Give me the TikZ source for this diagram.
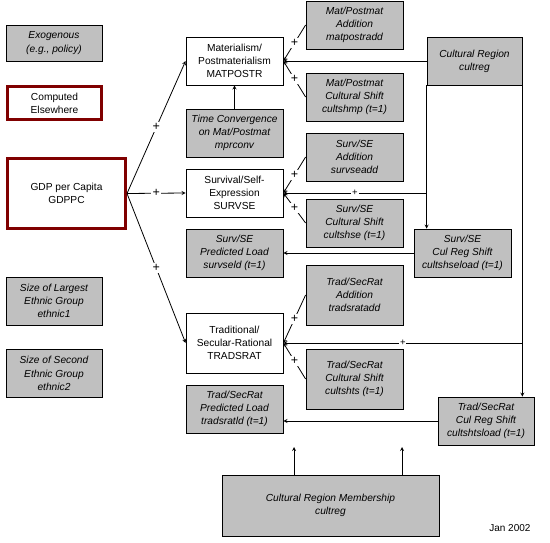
\documentclass[tikz,border=0pt]{standalone}
\usepackage{fontspec}
\setmainfont{Liberation Sans}
\usepackage{xcolor}
\usepackage{tikz}

\definecolor{boxGray}{RGB}{192,192,192}
\definecolor{darkRed}{RGB}{128,0,0}

\begin{document}
\begin{tikzpicture}[
        x={(1pt,0pt)}, y={(0pt,-1pt)},
        exog/.style={rectangle, draw=black, fill=boxGray, line width=0.8pt, minimum width=96pt, minimum height=48pt, inner sep=0pt, text centered, font=\fontsize{10.2}{13.2}\selectfont\itshape, align=center},
        level/.style={rectangle, draw=black, fill=white, line width=0.8pt, minimum width=97pt, minimum height=48pt, inner sep=0pt, text centered, font=\fontsize{10.2}{13.2}\selectfont, align=center},
        elsewhere/.style={rectangle, draw=darkRed, fill=white, line width=3pt, inner sep=0pt, text centered, font=\fontsize{10.2}{13.2}\selectfont, align=center},
        arrow/.style={->, >=stealth, line width=0.8pt},
        plus/.style={fill=white, inner sep=1.5pt, font=\fontsize{12.5}{12.5}\selectfont},
        smallPlus/.style={fill=white, inner sep=0.8pt, font=\fontsize{9.5}{9.5}\selectfont}
    ]
        \useasboundingbox (0,0) rectangle (550,543);

        % ========== LEGEND / INPUTS (Left Column) ==========
        \node[exog, minimum height=36pt] (exogenous) at (54,43) {Exogenous\\(e.g., policy)};
        \node[elsewhere, minimum width=94pt, minimum height=33pt] (computed) at (54.5,103) {Computed\\Elsewhere};
        \node[elsewhere, minimum width=118pt, minimum height=70pt] (gdppc) at (66.5,193.5) {GDP per Capita\\GDPPC};
        \node[exog] (ethnic1) at (54,301) {Size of Largest\\Ethnic Group\\ethnic1};
        \node[exog] (ethnic2) at (54,373.5) {Size of Second\\Ethnic Group\\ethnic2};

        % ========== VALUE LEVELS (Middle Column) ==========
        \node[level] (matpostr) at (234.5,61) {Materialism/\\Postmaterialism\\MATPOSTR};
        \node[exog, minimum width=97pt] (mprconv) at (234.5,133) {Time Convergence\\on Mat/Postmat\\mprconv};
        \node[level] (survse) at (234.5,193) {Survival/Self-\\Expression\\SURVSE};
        \node[exog, minimum width=97pt] (survseld) at (234.5,253) {Surv/SE\\Predicted Load\\survseld (t=1)};
        \node[level, minimum height=60pt] (tradsrat) at (234.5,343) {Traditional/\\Secular-Rational\\TRADSRAT};
        \node[exog, minimum width=97pt] (tradsratld) at (234.5,409) {Trad/SecRat\\Predicted Load\\tradsratld (t=1)};

        % ========== ADDITIONS AND SHIFTS ==========
        \node[exog, minimum width=97pt] (matpostradd) at (354.5,25) {Mat/Postmat\\Addition\\matpostradd};
        \node[exog, minimum width=97pt] (cultshmp) at (354.5,97) {Mat/Postmat\\Cultural Shift\\cultshmp (t=1)};
        \node[exog, minimum width=97pt] (survseadd) at (354.5,157) {Surv/SE\\Addition\\survseadd};
        \node[exog, minimum width=97pt] (cultshse) at (354.5,223) {Surv/SE\\Cultural Shift\\cultshse (t=1)};
        \node[exog, minimum width=97pt, minimum height=60pt] (tradsratadd) at (354.5,295) {Trad/SecRat\\Addition\\tradsratadd};
        \node[exog, minimum width=97pt, minimum height=60pt] (cultshts) at (354.5,379) {Trad/SecRat\\Cultural Shift\\cultshts (t=1)};

        % ========== CULTURAL REGION (Right Column) ==========
        \node[exog, minimum width=95pt] (cultreg) at (474.5,61) {Cultural Region\\cultreg};
        \node[exog, minimum width=97pt] (cultshseload) at (462.5,253) {Surv/SE\\Cul Reg Shift\\cultshseload (t=1)};
        \node[exog] (cultshtsload) at (486,421) {Trad/SecRat\\Cul Reg Shift\\cultshtsload (t=1)};
        \node[exog, minimum width=217pt, minimum height=61pt] (membership) at (330.5,505.5) {Cultural Region Membership\\cultreg};

        % free ends above the membership box
        \coordinate (memLeft) at (294,447);
        \coordinate (memRight) at (402,447);

        % ========== GDP EFFECTS ==========
        \draw[arrow] (gdppc.east) -- node[plus] {+} (matpostr.west);
        \draw[arrow] (gdppc.east) -- node[plus] {+} (survse.west);
        \draw[arrow] (gdppc.east) -- node[plus] {+} (tradsrat.west);

        % ========== INPUTS TO MATPOSTR ==========
        \draw[arrow] (mprconv.north) -- (matpostr.south);
        \draw[arrow] (matpostradd.west) -- node[plus] {+} (matpostr.east);
        \draw[arrow] (cultshmp.west) -- node[plus] {+} (matpostr.east);
        \draw[arrow] (cultreg.west) -- (matpostr.east);

        % ========== INPUTS TO SURVSE ==========
        \draw[arrow] (survseadd.west) -- node[plus] {+} (survse.east);
        \draw[arrow] (cultshse.west) -- node[plus] {+} (survse.east);
        \draw[arrow] (cultreg.south west) |- node[smallPlus, pos=0.75] {+} (survse.east);
        \draw[arrow] (cultreg.south west) -- (cultreg.south west |- cultshseload.north);
        \draw[arrow] (cultshseload.west) -- (survseld.east);

        % ========== INPUTS TO TRADSRAT ==========
        \draw[arrow] (tradsratadd.west) -- node[plus] {+} (tradsrat.east);
        \draw[arrow] (cultshts.west) -- node[plus] {+} (tradsrat.east);
        \draw[arrow] (cultreg.south east) |- node[smallPlus, pos=0.75] {+} (tradsrat.east);
        \draw[arrow] (cultreg.south east) -- (cultreg.south east |- cultshtsload.north);
        \draw[arrow] (cultshtsload.west) -- (cultshtsload.west -| tradsratld.east);

        % ========== MEMBERSHIP ==========
        \draw[arrow] (membership.north -| memLeft) -- (memLeft);
        \draw[arrow] (membership.north -| memRight) -- (memRight);

        % date stamp
        \node[anchor=east, font=\fontsize{10}{12}\selectfont] (date) at (534,528) {Jan 2002};

    \end{tikzpicture}
\end{document}
